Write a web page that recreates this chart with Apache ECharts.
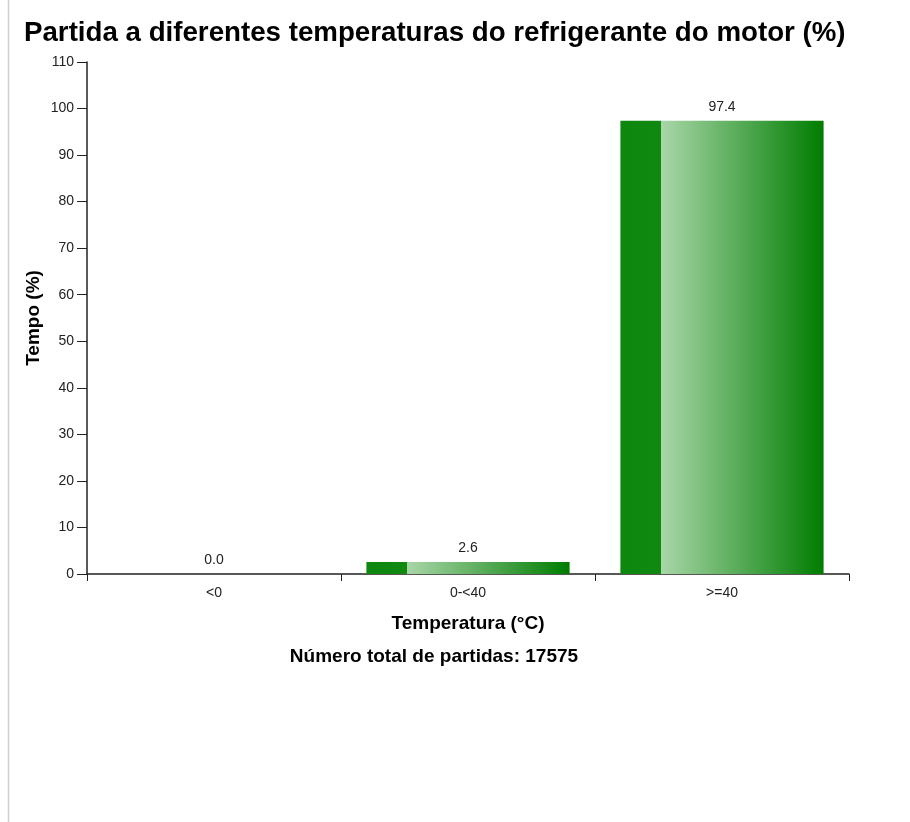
<!DOCTYPE html>
<html>
<head>
<meta charset="utf-8">
<script src="https://cdn.jsdelivr.net/npm/echarts@6/dist/echarts.min.js"></script>
<style>
    html, body { margin: 0; padding: 0; background: #fff; }
    #chart { width: 910px; height: 822px; }
</style>
</head>
<body>
<div id="chart"></div>
<script>
    var categories = ['<0', '0-<40', '>=40'];
    var values = [0.0, 2.6, 97.4];
    var totalStarts = 17575;

    var font = 'Liberation Sans, Arial, sans-serif';
    var chart = echarts.init(document.getElementById('chart'));

    // green bar with a dark band on the left, then light-to-dark gradient
    var barColor = new echarts.graphic.LinearGradient(0, 0, 1, 0, [
        { offset: 0, color: '#0d870d' },
        { offset: 0.199, color: '#0f890f' },
        { offset: 0.2, color: '#a8d6a8' },
        { offset: 1, color: '#007d00' }
    ]);

    chart.setOption({
        animation: false,
        textStyle: { fontFamily: font },
        title: {
            text: 'Partida a diferentes temperaturas do refrigerante do motor (%)',
            left: 19,
            top: 14,
            textStyle: { fontSize: 27.7, fontWeight: 'bold', color: '#000', fontFamily: font }
        },
        grid: { left: 87, right: 61, top: 62, bottom: 248 },
        xAxis: {
            type: 'category',
            data: categories,
            name: 'Temperatura (°C)',
            nameLocation: 'middle',
            nameGap: 40,
            nameTextStyle: { fontSize: 19, fontWeight: 'bold', color: '#000' },
            axisLine: { lineStyle: { color: '#222', width: 1.5 } },
            axisTick: { show: true, length: 7, lineStyle: { color: '#222' } },
            axisLabel: { fontSize: 14, color: '#222', margin: 12 }
        },
        yAxis: {
            type: 'value',
            min: 0,
            max: 110,
            interval: 10,
            name: 'Tempo (%)',
            nameLocation: 'middle',
            nameRotate: 90,
            nameGap: 44,
            nameMoveOverlap: false,
            nameTextStyle: { fontSize: 19, fontWeight: 'bold', color: '#000' },
            axisLine: { show: true, lineStyle: { color: '#222', width: 1.5 } },
            axisTick: { show: true, length: 10, lineStyle: { color: '#222' } },
            axisLabel: { fontSize: 14, color: '#222', margin: 13 },
            splitLine: { show: false }
        },
        series: [{
            type: 'bar',
            data: values,
            barWidth: '80%',
            itemStyle: { color: barColor },
            label: {
                show: true,
                position: 'top',
                distance: 7,
                fontSize: 14,
                color: '#222',
                formatter: function (p) { return p.value.toFixed(1); }
            }
        }],
        graphic: [
            {
                type: 'line',
                shape: { x1: 8.5, y1: 0, x2: 8.5, y2: 822 },
                style: { stroke: '#cfcfcf', lineWidth: 1.5 }
            },
            {
                type: 'text',
                x: 434,
                y: 657,
                style: {
                    text: 'Número total de partidas: ' + totalStarts,
                    font: 'bold 19px ' + font,
                    fill: '#000',
                    textAlign: 'center',
                    textVerticalAlign: 'middle'
                }
            }
        ]
    });
</script>
</body>
</html>
